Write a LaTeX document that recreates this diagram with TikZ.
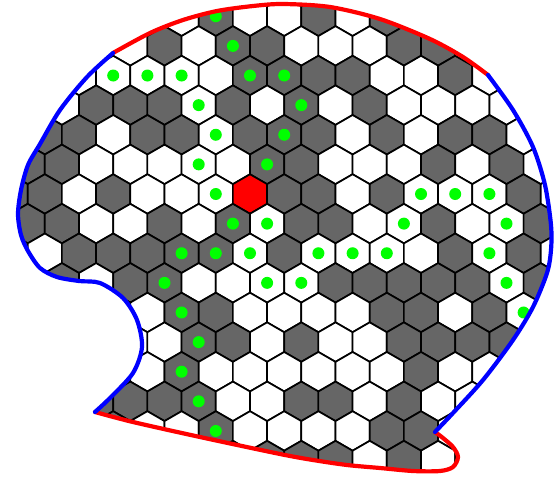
\documentclass[tikz,border=0pt]{standalone}
\usetikzlibrary{calc}

\definecolor{hexgray}{RGB}{102,102,102}
\definecolor{dotgreen}{RGB}{0,255,0}
\tikzset{
  hexcell/.style={draw=black, line width=1.7pt, line join=round},
  cw/.style={hexcell, fill=white},
  cg/.style={hexcell, fill=hexgray},
  cR/.style={hexcell, fill=red},
  stone/.style={path picture={\fill[dotgreen] (path picture bounding box.center) circle (6pt);}},
  cW/.style={cw, stone},
  cG/.style={cg, stone},
  rim/.style={line width=4.2pt, line cap=round, line join=round},
}

\begin{document}
\begin{tikzpicture}[x=1pt,y=-1pt]
\useasboundingbox (0,0) rectangle (560,477);
\coordinate (A) at (113,53);
\coordinate (B) at (488,75);
\coordinate (C) at (435,432);
\coordinate (D) at (95,412);

\begin{scope}
\clip plot[smooth] coordinates {(A) (150,33) (183,20) (217,11) (253,6) (283,4) (330,7) (380,19) (430,39) (463,57) (B)}
  -- plot[smooth] coordinates {(B) (513,110) (533,147) (545,185) (551,225) (551,250) (547,273) (533,307) (513,340) (483,380) (453,413) (C)}
  -- plot[smooth] coordinates {(C) (443,438) (453,447) (458,457) (453,467) (440,471) (413,471) (380,468) (347,465) (313,460) (280,454) (200,437) (133,422) (D)}
  -- plot[smooth] coordinates {(D) (110,398) (133,373) (142,347) (137,320) (123,298) (100,283) (79,281) (57,277) (40,268) (28,251) (21,235) (18,214) (21,190) (28,165) (40,144) (60,110) (87,77) (A)}
  -- cycle;
% rows from top to bottom, columns -7..9
\foreach \r/\cells in {
  7/{w,w,w,w,w,w,w,w,w,w,w,w,w,w,w,w,w},
  6/{w,w,w,w,w,w,G,w,w,g,w,g,w,w,w,w,w},
  5/{w,w,w,w,g,w,G,g,w,w,w,g,g,w,w,w,w},
  4/{w,w,w,W,W,W,w,G,G,g,g,w,w,g,w,w,w},
  3/{w,w,g,g,g,W,g,w,G,w,g,w,w,w,w,w,w},
  2/{w,g,g,w,g,g,W,g,G,g,w,g,w,g,g,w,w},
  1/{g,g,w,w,w,W,w,G,g,w,w,w,g,w,g,w,w},
  0/{g,g,w,g,w,w,W,R,g,g,w,g,W,W,W,g,w},
  -1/{g,g,w,w,g,w,G,W,g,g,w,W,g,w,W,g,w},
  -2/{w,w,g,g,g,G,G,W,g,W,W,W,w,g,W,g,w},
  -3/{g,g,w,g,G,w,w,W,W,g,g,g,g,g,W,g,w},
  -4/{w,w,w,g,w,G,g,w,w,w,w,g,g,w,g,W,w},
  -5/{w,w,w,w,w,G,g,w,g,w,w,g,g,g,g,w,w},
  -6/{w,w,w,w,w,G,w,w,w,w,w,w,g,w,w,w,w},
  -7/{w,w,g,g,g,G,w,w,g,g,w,g,w,w,w,w,w},
  -8/{w,w,w,g,w,w,G,w,w,w,w,g,g,w,w,w,w},
  -9/{w,w,w,w,w,w,w,g,g,g,w,g,w,w,w,w,w}}{
  \foreach \k [count=\n from -7] in \cells{
    \pgfmathsetmacro\hx{250+34.2*\n+17.1*mod(\r+20,2)}
    \pgfmathsetmacro\hy{194-29.62*\r}
    \path[c\k, shift={(\hx,\hy)}] (90:19.75) -- (150:19.75) -- (210:19.75) -- (270:19.75) -- (330:19.75) -- (30:19.75) -- cycle;
  }
}
\end{scope}

\draw[rim, red] plot[smooth] coordinates {(A) (150,33) (183,20) (217,11) (253,6) (283,4) (330,7) (380,19) (430,39) (463,57) (B)};
\draw[rim, red] plot[smooth] coordinates {(C) (443,438) (453,447) (458,457) (453,467) (440,471) (413,471) (380,468) (347,465) (313,460) (280,454) (200,437) (133,422) (D)};
\draw[rim, blue] plot[smooth] coordinates {(B) (513,110) (533,147) (545,185) (551,225) (551,250) (547,273) (533,307) (513,340) (483,380) (453,413) (C)};
\draw[rim, blue] plot[smooth] coordinates {(D) (110,398) (133,373) (142,347) (137,320) (123,298) (100,283) (79,281) (57,277) (40,268) (28,251) (21,235) (18,214) (21,190) (28,165) (40,144) (60,110) (87,77) (A)};
\end{tikzpicture}
\end{document}
